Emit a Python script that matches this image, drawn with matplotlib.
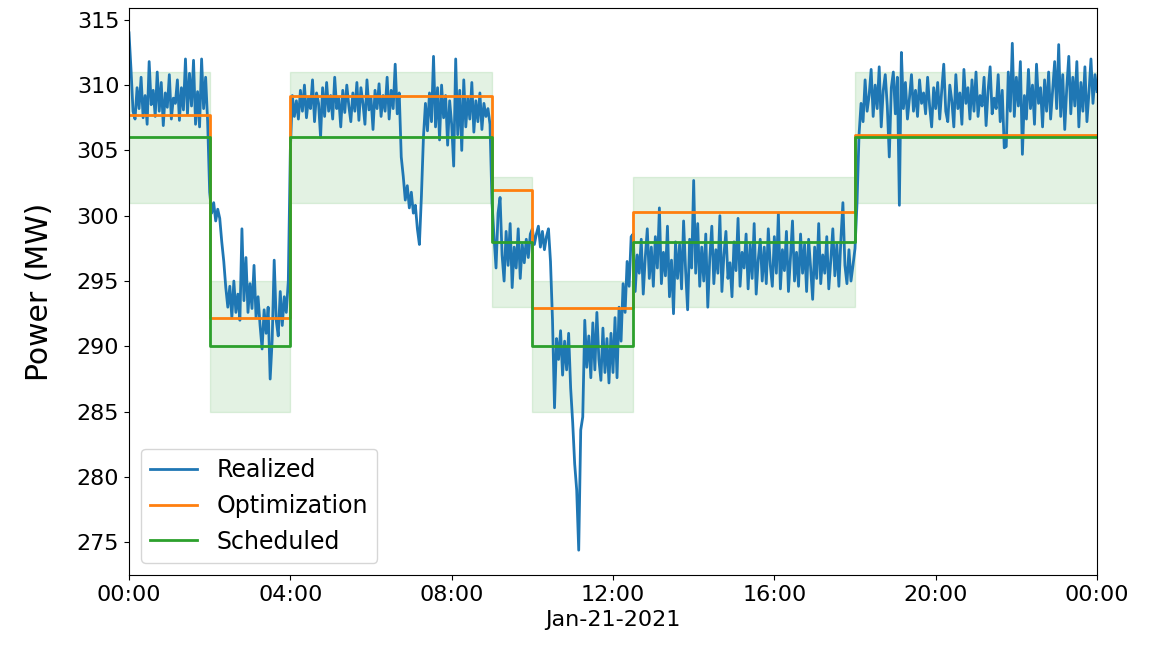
import numpy as np
import pandas as pd
import matplotlib
matplotlib.use('Agg')
import matplotlib.pyplot as plt
import matplotlib.dates as mdates

# realized power, one reading every 3 minutes from 00:00 to 24:00 (MW)
realized = [
    # 00:00 - 01:57
    314.0, 311.2, 308.0, 307.4, 309.8, 308.2, 310.6, 307.5, 309.2, 307.0,
    311.8, 308.5, 309.6, 307.6, 311.0, 308.0, 310.2, 306.9, 309.4, 308.3,
    310.8, 307.4, 309.0, 308.6, 310.4, 307.3, 309.8, 308.1, 312.0, 307.8,
    310.9, 308.4, 311.9, 307.0, 309.5, 306.8, 312.0, 308.2, 310.6, 307.2,
    # 02:00 - 03:57
    301.8, 300.2, 301.0, 299.6, 300.5, 299.8, 298.0, 296.5, 294.5, 293.0,
    294.6, 292.2, 295.0, 292.6, 294.0, 292.0, 299.0, 293.5, 296.8, 292.6,
    294.8, 292.9, 296.2, 292.2, 293.8, 291.6, 289.8, 292.8, 291.0, 293.0,
    287.5, 290.5, 296.6, 292.0, 290.8, 294.2, 291.6, 293.8, 292.6, 295.0,
    # 04:00 - 08:57
    305.0, 309.2, 307.6, 308.8, 307.4, 309.6, 308.0, 310.0, 307.5, 309.0,
    308.2, 310.4, 307.2, 309.4, 308.6, 306.0, 309.8, 307.6, 310.2, 308.0,
    309.2, 307.4, 310.6, 308.2, 309.0, 306.8, 309.6, 307.9, 310.0, 308.4,
    307.2, 309.4, 308.0, 310.2, 307.3, 309.8, 308.6, 307.0, 310.4, 308.1,
    309.0, 306.6, 309.6, 308.2, 310.1, 307.6, 309.2, 308.0, 310.6, 307.4,
    309.6, 308.2, 311.6, 307.8, 309.4, 304.5, 303.0, 301.2, 302.3, 300.6,
    301.8, 300.2, 300.8, 299.0, 297.8, 301.5, 306.0, 308.6, 306.5, 309.4,
    307.2, 312.2, 306.8, 309.8, 305.8, 310.0, 307.5, 309.2, 305.4, 308.8,
    307.0, 303.8, 312.0, 306.2, 309.6, 305.0, 310.4, 306.8, 309.0, 307.4,
    310.2, 306.4, 308.8, 307.2, 309.4, 306.6, 308.6, 307.6, 308.2, 307.0,
    # 09:00 - 09:57
    301.0, 298.4, 296.0, 300.2, 301.4, 297.0, 295.0, 298.8, 296.2, 299.4,
    294.5, 297.6, 296.0, 299.0, 295.2, 297.8, 296.4, 298.2, 296.8, 298.6,
    # 10:00 - 12:27
    299.0, 297.8, 298.6, 299.2, 297.6, 298.8, 297.4, 298.4, 299.0, 296.5,
    292.0, 285.3, 290.6, 289.0, 291.2, 287.8, 290.4, 288.2, 291.0, 286.8,
    284.2, 281.0, 279.0, 274.4, 283.6, 284.6, 292.0, 288.4, 290.8, 287.6,
    291.8, 288.2, 292.6, 289.0, 287.4, 291.4, 288.0, 290.6, 287.2, 291.0,
    288.0, 292.2, 287.6, 293.0, 290.4, 294.8, 292.6, 296.5, 294.6, 298.4,
    # 12:30 - 17:57
    298.6, 294.2, 297.0, 295.6, 298.2, 294.0, 296.8, 299.0, 295.2, 297.6,
    294.6, 298.4, 296.0, 300.6, 294.8, 297.2, 295.4, 299.2, 293.8, 296.6,
    292.5, 298.0, 295.2, 297.8, 294.4, 299.6, 295.8, 292.8, 298.2, 296.0,
    302.7, 295.6, 299.4, 294.6, 297.6, 295.0, 298.6, 293.0, 296.8, 299.2,
    294.8, 297.4, 295.6, 300.0, 294.2, 297.0, 298.8, 295.2, 296.4, 293.8,
    298.0, 295.8, 299.8, 294.6, 297.2, 296.0, 298.6, 294.4, 297.8, 295.2,
    299.4, 294.0, 296.6, 298.2, 295.0, 297.6, 294.8, 299.0, 296.2, 294.6,
    298.4, 295.6, 300.2, 294.4, 297.4, 295.8, 298.8, 294.2, 296.8, 299.6,
    295.0, 297.2, 294.6, 298.6, 295.6, 297.8, 294.2, 298.2, 296.0, 293.6,
    297.6, 295.2, 299.4, 294.8, 297.0, 295.6, 298.4, 294.4, 296.6, 299.0,
    295.4, 297.8, 294.6, 298.2, 301.0, 296.2, 294.8, 297.4, 295.0, 296.2,
    # 18:00 - 24:00
    297.5, 301.0, 306.2, 308.6, 307.2, 310.4, 308.0, 309.2, 311.2, 307.6,
    310.0, 308.2, 311.4, 306.8, 309.6, 310.8, 308.4, 304.5, 309.8, 311.0,
    307.8, 310.6, 300.8, 312.5, 308.2, 310.2, 307.4, 309.0, 310.8, 308.0,
    309.6, 307.6, 310.4, 308.6, 309.4, 307.8, 310.6, 308.4, 306.8, 309.8,
    308.2, 310.2, 307.4, 309.6, 311.6, 308.0, 307.2, 310.0, 308.8, 306.8,
    310.8, 308.2, 309.4, 307.0, 311.2, 308.6, 309.8, 307.4, 310.4, 308.0,
    311.0, 307.6, 309.2, 308.4, 310.6, 306.9, 309.6, 311.4, 307.8, 309.0,
    308.2, 310.8, 307.2, 309.6, 305.2, 305.3, 311.0, 308.0, 313.2, 307.6,
    310.6, 308.4, 311.8, 304.7, 309.2, 307.4, 311.2, 308.2, 310.0, 307.0,
    311.6, 308.6, 309.8, 306.8, 310.4, 308.0, 311.0, 307.4, 309.6, 311.8,
    308.2, 313.1, 307.6, 310.8, 306.6, 309.8, 312.2, 307.8, 310.6, 308.4,
    311.8, 306.8, 310.2, 308.0, 311.4, 307.2, 309.4, 312.0, 308.6, 310.8,
    309.5,
]

# schedule blocks: start hour of each block, plus end of day
block_hours = [0, 2, 4, 9, 10, 12.5, 18, 24]
scheduled = [306, 290, 306, 298, 290, 298, 306]
optimization = [307.7, 292.2, 309.2, 302.0, 292.9, 300.3, 306.2]
tolerance = 5

day = pd.Timestamp('2021-01-21')
t_real = pd.date_range(day, periods=len(realized), freq='3min')
t_block = [day + pd.Timedelta(hours=h) for h in block_hours]

sched_step = scheduled + [scheduled[-1]]
opt_step = optimization + [optimization[-1]]
lower = np.array(sched_step) - tolerance
upper = np.array(sched_step) + tolerance

label_fontsize = 16
fig = plt.figure(figsize=(11.6, 6.46), dpi=100)
ax = fig.add_axes([0.1112, 0.1099, 0.8345, 0.8777])

ax.fill_between(t_block, lower, upper, step='post', color='tab:green', alpha=0.13)
ax.plot(t_real, realized, color='tab:blue', lw=2, label='Realized')
ax.step(t_block, opt_step, where='post', color='tab:orange', lw=2, label='Optimization')
ax.step(t_block, sched_step, where='post', color='tab:green', lw=2, label='Scheduled')

ax.set_xlim(t_block[0], t_block[-1])
ax.set_ylim(272.5, 315.9)
ax.xaxis.set_major_locator(mdates.HourLocator(byhour=range(0, 24, 4)))
ax.xaxis.set_major_formatter(mdates.DateFormatter('%H:%M'))
ax.tick_params(axis='both', labelsize=label_fontsize)
ax.set_xlabel('Jan-21-2021', fontsize=label_fontsize)
ax.set_ylabel('Power (MW)', fontsize=21.5, labelpad=16)
ax.legend(loc='lower left', fontsize=17)

fig.savefig('out.png', dpi=100)
